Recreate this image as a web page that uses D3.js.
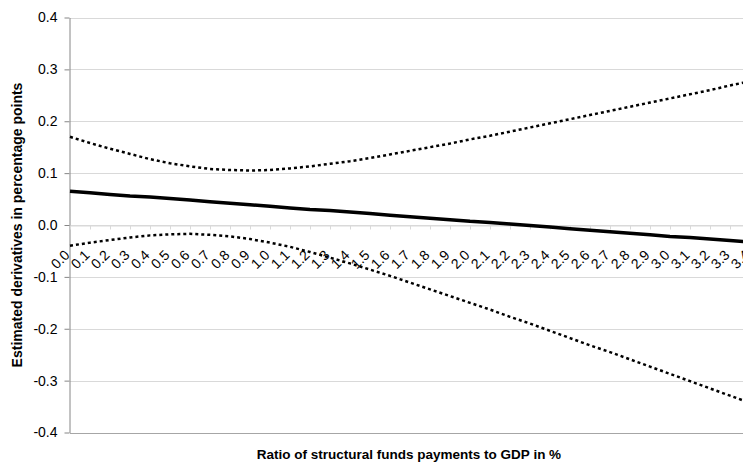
<!DOCTYPE html>
<html>
<head>
<meta charset="utf-8">
<script src="https://cdn.jsdelivr.net/npm/d3@7"></script>
<style>
  body { margin: 0; background: #fff; overflow: hidden; }
  text { font-family: "Liberation Sans", Arial, sans-serif; }
</style>
</head>
<body>
<div id="chart"></div>
<script>
// Category labels (ratio of structural funds payments to GDP in %)
var categories = ["0.0","0.1","0.2","0.3","0.4","0.5","0.6","0.7","0.8","0.9",
  "1.0","1.1","1.2","1.3","1.4","1.5","1.6","1.7","1.8","1.9",
  "2.0","2.1","2.2","2.3","2.4","2.5","2.6","2.7","2.8","2.9",
  "3.0","3.1","3.2","3.3","3.4"];

// Estimated derivative (solid line)
var estimate = [0.065,0.062,0.059,0.056,0.054,0.051,0.048,0.045,0.042,0.039,
  0.036,0.033,0.030,0.028,0.025,0.022,0.019,0.016,0.013,0.010,
  0.007,0.005,0.002,-0.001,-0.004,-0.007,-0.010,-0.013,-0.016,-0.019,
  -0.022,-0.024,-0.027,-0.030,-0.033];

// Upper confidence bound (dotted)
var upper = [0.170,0.158,0.147,0.137,0.127,0.119,0.113,0.108,0.106,0.105,
  0.106,0.109,0.113,0.118,0.123,0.129,0.136,0.143,0.150,0.157,
  0.165,0.172,0.180,0.188,0.196,0.204,0.212,0.220,0.228,0.236,
  0.244,0.252,0.260,0.269,0.277];

// Lower confidence bound (dotted)
var lower = [-0.040,-0.034,-0.029,-0.024,-0.020,-0.018,-0.017,-0.019,-0.022,-0.027,
  -0.034,-0.042,-0.052,-0.063,-0.074,-0.086,-0.098,-0.111,-0.124,-0.137,
  -0.150,-0.163,-0.177,-0.190,-0.204,-0.218,-0.232,-0.245,-0.259,-0.273,
  -0.287,-0.301,-0.315,-0.329,-0.343];

var yTicks = [-0.4,-0.3,-0.2,-0.1,0.0,0.1,0.2,0.3,0.4];

var svgWidth = 743;
var svgHeight = 466;
// plot area runs past the right edge of the picture (the original is cropped)
var margin = { top: 17.5, right: -7, bottom: 33.5, left: 70 };

var svg = d3.select("#chart")
  .append("svg")
  .attr("width", svgWidth)
  .attr("height", svgHeight);

var xScale = d3.scalePoint().domain(categories)
  .range([margin.left, svgWidth - margin.right]);
var yScale = d3.scaleLinear().domain([-0.4, 0.4])
  .range([svgHeight - margin.bottom, margin.top]);

// Gridlines
svg.append("g").selectAll("line").data(yTicks).enter().append("line")
  .attr("x1", margin.left)
  .attr("x2", svgWidth)
  .attr("y1", d => Math.round(yScale(d)) + 0.5)
  .attr("y2", d => Math.round(yScale(d)) + 0.5)
  .attr("stroke", d => d === -0.4 ? "#a6a6a6" : "#d9d9d9")
  .attr("stroke-width", 1);

// Y axis
var leftAxis = d3.axisLeft(yScale)
  .tickValues(yTicks)
  .tickFormat(d => d.toFixed(1))
  .tickSizeInner(5)
  .tickSizeOuter(0)
  .tickPadding(7);

var yAxisG = svg.append("g")
  .attr("transform", "translate(" + (margin.left - 0.5) + ",0)")
  .call(leftAxis);
yAxisG.select(".domain").attr("stroke", "#868686");
yAxisG.selectAll(".tick line").attr("stroke", "#868686");
yAxisG.selectAll(".tick text")
  .attr("font-size", 14)
  .attr("font-family", "'Liberation Sans', Arial, sans-serif")
  .attr("fill", "#000");

// X axis (crosses at 0)
var bottomAxis = d3.axisBottom(xScale)
  .tickSizeInner(4)
  .tickSizeOuter(0)
  .tickFormat("");

var y0 = Math.round(yScale(0)) + 0.5;
var xAxisG = svg.append("g")
  .attr("transform", "translate(0," + y0 + ")")
  .call(bottomAxis);
xAxisG.select(".domain").attr("stroke", "#d9d9d9");
xAxisG.selectAll(".tick line").attr("stroke", "#d9d9d9");

// Lines
var line = d3.line()
  .x((d, i) => xScale(categories[i]))
  .y(d => yScale(d));

svg.append("path").datum(upper)
  .attr("d", line)
  .attr("fill", "none")
  .attr("stroke", "#000")
  .attr("stroke-width", 2.5)
  .attr("stroke-dasharray", "3,3");

svg.append("path").datum(lower)
  .attr("d", line)
  .attr("fill", "none")
  .attr("stroke", "#000")
  .attr("stroke-width", 2.5)
  .attr("stroke-dasharray", "3,3");

svg.append("path").datum(estimate)
  .attr("d", line)
  .attr("fill", "none")
  .attr("stroke", "#000")
  .attr("stroke-width", 3.5);

// X tick labels, rotated
svg.append("g").selectAll("text").data(categories).enter().append("text")
  .attr("transform", d => "translate(" + (xScale(d) - 3) + "," + (y0 + 27) + ") rotate(-45)")
  .attr("text-anchor", "end")
  .attr("dy", "0.35em")
  .attr("font-size", 14)
  .attr("fill", "#000")
  .text(d => d);

// Axis titles
svg.append("text")
  .attr("x", 409)
  .attr("y", 459)
  .attr("text-anchor", "middle")
  .attr("font-size", 13.5)
  .attr("font-weight", "bold")
  .text("Ratio of structural funds payments to GDP in %");

svg.append("text")
  .attr("transform", "translate(22,225) rotate(-90)")
  .attr("text-anchor", "middle")
  .attr("font-size", 14)
  .attr("font-weight", "bold")
  .text("Estimated derivatives in percentage points");
</script>
</body>
</html>
